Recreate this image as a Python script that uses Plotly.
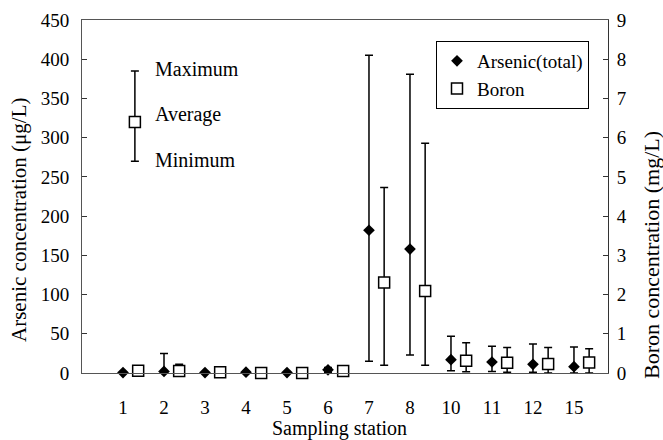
import plotly.graph_objects as go

stations = ["1", "2", "3", "4", "5", "6", "7", "8", "10", "11", "12", "15"]

as_avg = [0.5, 2, 0.5, 1, 0.5, 4, 182, 158, 17, 14, 11, 8]
as_max = [1, 25, 1, 2, 1, 7, 405, 381, 47, 34, 37, 33]
as_min = [0, 0, 0, 0, 0, 1, 15, 23, 3, 2, 1, 0]

bo_avg = [0.06, 0.05, 0.02, 0.0, 0.0, 0.05, 2.31, 2.09, 0.31, 0.26, 0.23, 0.27]
bo_max = [0.08, 0.22, 0.03, 0.01, 0.01, 0.06, 4.73, 5.86, 0.77, 0.65, 0.65, 0.62]
bo_min = [0.04, 0.02, 0.01, 0.0, 0.0, 0.04, 0.2, 0.2, 0.03, 0.02, 0.0, 0.0]

key_avg, key_max, key_min = 320, 385, 270
key_labels = ["Maximum", "Average", "Minimum"]

FONT = "Liberation Serif, Times New Roman, serif"
BORON_SHIFT = 0.37

W, H = 663, 440
ml, mr, mt, mb = 82, 55, 20, 67
pw, ph = W - ml - mr, H - mt - mb


def px_to_paper(xp, yp):
    return (xp - ml) / pw, (H - mb - yp) / ph


x_as = list(range(1, len(stations) + 1))
x_bo = [v + BORON_SHIFT for v in x_as]

fig = go.Figure()

fig.add_trace(go.Scatter(
    x=x_as, y=as_avg, mode="markers", name="Arsenic(total)",
    marker=dict(symbol="diamond", size=9, color="black"),
    error_y=dict(type="data", symmetric=False,
                 array=[m - a for m, a in zip(as_max, as_avg)],
                 arrayminus=[a - m for a, m in zip(as_avg, as_min)],
                 color="black", thickness=1.5, width=4),
    cliponaxis=False,
))

fig.add_trace(go.Scatter(
    x=x_bo, y=bo_avg, mode="markers", name="Boron", yaxis="y2",
    marker=dict(symbol="square", size=11, color="white",
                line=dict(color="black", width=1.5)),
    error_y=dict(type="data", symmetric=False,
                 array=[m - a for m, a in zip(bo_max, bo_avg)],
                 arrayminus=[a - m for a, m in zip(bo_avg, bo_min)],
                 color="black", thickness=1.5, width=4),
    cliponaxis=False,
))

# explanatory key (max / average / min)
key_x = 1.29
fig.add_trace(go.Scatter(
    x=[key_x], y=[key_avg], mode="markers", showlegend=False,
    marker=dict(symbol="square", size=11, color="white",
                line=dict(color="black", width=1.5)),
    error_y=dict(type="data", symmetric=False,
                 array=[key_max - key_avg], arrayminus=[key_avg - key_min],
                 color="black", thickness=1.5, width=4),
))
for lab, yv in zip(key_labels, [387, 329, 271]):
    fig.add_annotation(x=1.73, y=yv, xref="x", yref="y", text=lab,
                       showarrow=False, xanchor="left", yanchor="middle",
                       font=dict(family=FONT, size=20, color="black"))

xp, yp = px_to_paper(339, 428)
fig.add_annotation(x=xp, y=yp, xref="paper", yref="paper", text="Sampling station",
                   showarrow=False, xanchor="center", yanchor="middle",
                   font=dict(family=FONT, size=20, color="black"))
xp, yp = px_to_paper(19, 220)
fig.add_annotation(x=xp, y=yp, xref="paper", yref="paper",
                   text="Arsenic concentration (μg/L)", textangle=-90,
                   showarrow=False, xanchor="center", yanchor="middle",
                   font=dict(family=FONT, size=21, color="black"))
xp, yp = px_to_paper(651, 255)
fig.add_annotation(x=xp, y=yp, xref="paper", yref="paper",
                   text="Boron concentration (mg/L)", textangle=-90,
                   showarrow=False, xanchor="center", yanchor="middle",
                   font=dict(family=FONT, size=22, color="black"))

lx, ly = px_to_paper(589, 41)

fig.update_layout(
    width=W, height=H,
    margin=dict(l=ml, r=mr, t=mt, b=mb, pad=0, autoexpand=False),
    paper_bgcolor="white", plot_bgcolor="white",
    font=dict(family=FONT, size=19, color="black"),
    showlegend=True,
    legend=dict(x=lx, y=ly, xanchor="right", yanchor="top",
                bordercolor="black", borderwidth=1, bgcolor="white",
                font=dict(family=FONT, size=19, color="black"),
                itemwidth=30, tracegroupgap=0),
    xaxis=dict(range=[0, 12.83], tickmode="array", tickvals=x_as, ticktext=stations,
               showgrid=False, zeroline=False, ticks="", showline=True,
               linecolor="#555", linewidth=1, mirror=True, automargin=False,
               ticklabelstandoff=17, tickfont=dict(family=FONT, size=19)),
    yaxis=dict(range=[0, 450], dtick=50, showgrid=False, zeroline=False,
               ticks="inside", ticklen=5, tickcolor="#333", showline=True,
               linecolor="#555", linewidth=1, ticklabelstandoff=8, automargin=False,
               tickfont=dict(family=FONT, size=19)),
    yaxis2=dict(range=[0, 9], dtick=1, overlaying="y", side="right",
                showgrid=False, zeroline=False, ticks="inside", ticklen=5,
                tickcolor="#333", showline=True, linecolor="#333", linewidth=1,
                ticklabelstandoff=4, automargin=False,
                tickfont=dict(family=FONT, size=19)),
)

fig.write_html("out.html", config={"displayModeBar": False},
               post_script="document.body.style.margin='0';document.body.style.overflow='hidden';")
